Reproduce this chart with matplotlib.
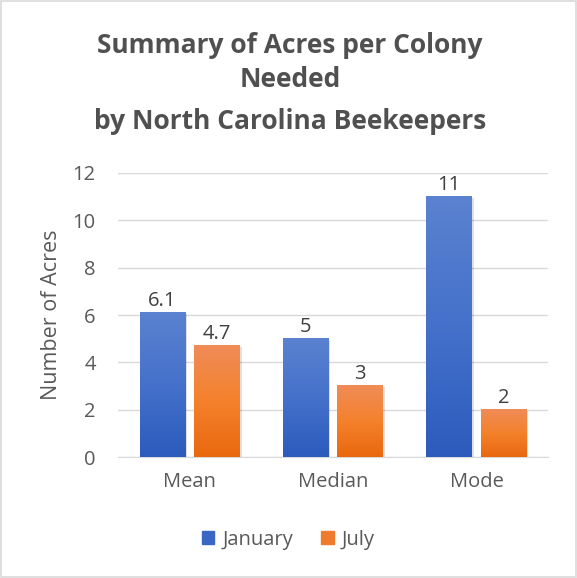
import numpy as np
import matplotlib.pyplot as plt
from matplotlib.colors import LinearSegmentedColormap
from matplotlib.patches import Rectangle

categories = ["Mean", "Median", "Mode"]
january = [6.1, 5, 11]
july = [4.7, 3, 2]
jan_labels = ["6.1", "5", "11"]
jul_labels = ["4.7", "3", "2"]
title_lines = ["Summary of Acres per Colony", "Needed", "by North Carolina Beekeepers"]

plt.rcParams["font.family"] = ["Open Sans", "DejaVu Sans"]

fig = plt.figure(figsize=(5.77, 5.78), dpi=100)
ax = fig.add_axes([0.2045, 0.2093, 0.7455, 0.4914])

x = np.arange(len(categories))
w = 0.32
off = 0.19

blue_cmap = LinearSegmentedColormap.from_list("b", ["#2c5bbd", "#4571cb", "#5b82d0"])
orange_cmap = LinearSegmentedColormap.from_list("o", ["#e9680f", "#f4812c", "#f08c58"])
grad = np.linspace(0, 1, 256).reshape(-1, 1)

ax.set_xlim(-0.5, 2.5)
ax.set_ylim(0, 12)

for vals, labels, shift, cmap in [(january, jan_labels, -off, blue_cmap),
                                  (july, jul_labels, off, orange_cmap)]:
    bars = ax.bar(x + shift, vals, w, color="none", zorder=3)
    for b, lab in zip(bars, labels):
        x0, y0 = b.get_x(), b.get_y()
        bw, bh = b.get_width(), b.get_height()
        # soft shadow
        ax.add_patch(Rectangle((x0 + 0.012, y0), bw, bh - 0.04, color="#000000",
                               alpha=0.12, zorder=2, lw=0))
        ax.imshow(grad, cmap=cmap, origin="lower", aspect="auto",
                  extent=(x0, x0 + bw, y0, y0 + bh), zorder=3)
        ax.text(x0 + bw / 2, bh + 0.08, lab, ha="center", va="bottom",
                fontsize=14.5, color="#404040", zorder=4)

ax.set_xlim(-0.5, 2.5)
ax.set_ylim(0, 12)
ax.set_yticks(range(0, 13, 2))
ax.set_xticks(x)
ax.set_xticklabels(categories)
ax.tick_params(axis="both", length=0, labelsize=14.5, labelcolor="#595959")
ax.tick_params(axis="x", pad=11)
ax.tick_params(axis="y", pad=16)
ax.grid(axis="y", color="#d9d9d9", lw=1, zorder=0)
ax.set_axisbelow(True)
for s in ["top", "right", "left"]:
    ax.spines[s].set_visible(False)
ax.spines["bottom"].set_color("#d9d9d9")
ax.set_ylabel("Number of Acres", fontsize=15.5, color="#595959", labelpad=8)

for line, yy in zip(title_lines, [0.922, 0.862, 0.789]):
    fig.text(0.503, yy, line, ha="center", va="center", fontsize=19,
             fontweight="bold", color="#505050")

# legend
handles = [Rectangle((0, 0), 1, 1, color="#3a66c4"), Rectangle((0, 0), 1, 1, color="#ef7b2e")]
fig.legend(handles, ["January", "July"], loc="center", bbox_to_anchor=(0.5, 0.066),
           ncol=2, frameon=False, fontsize=14.5, handlelength=0.6, handleheight=0.6,
           handletextpad=0.4, columnspacing=1.4, labelcolor="#595959")

fig.patches.append(Rectangle((0.002, 0.002), 0.996, 0.996, transform=fig.transFigure,
                             fill=False, edgecolor="#d9d9d9", lw=1.2))

fig.savefig("out.png", dpi=100)
